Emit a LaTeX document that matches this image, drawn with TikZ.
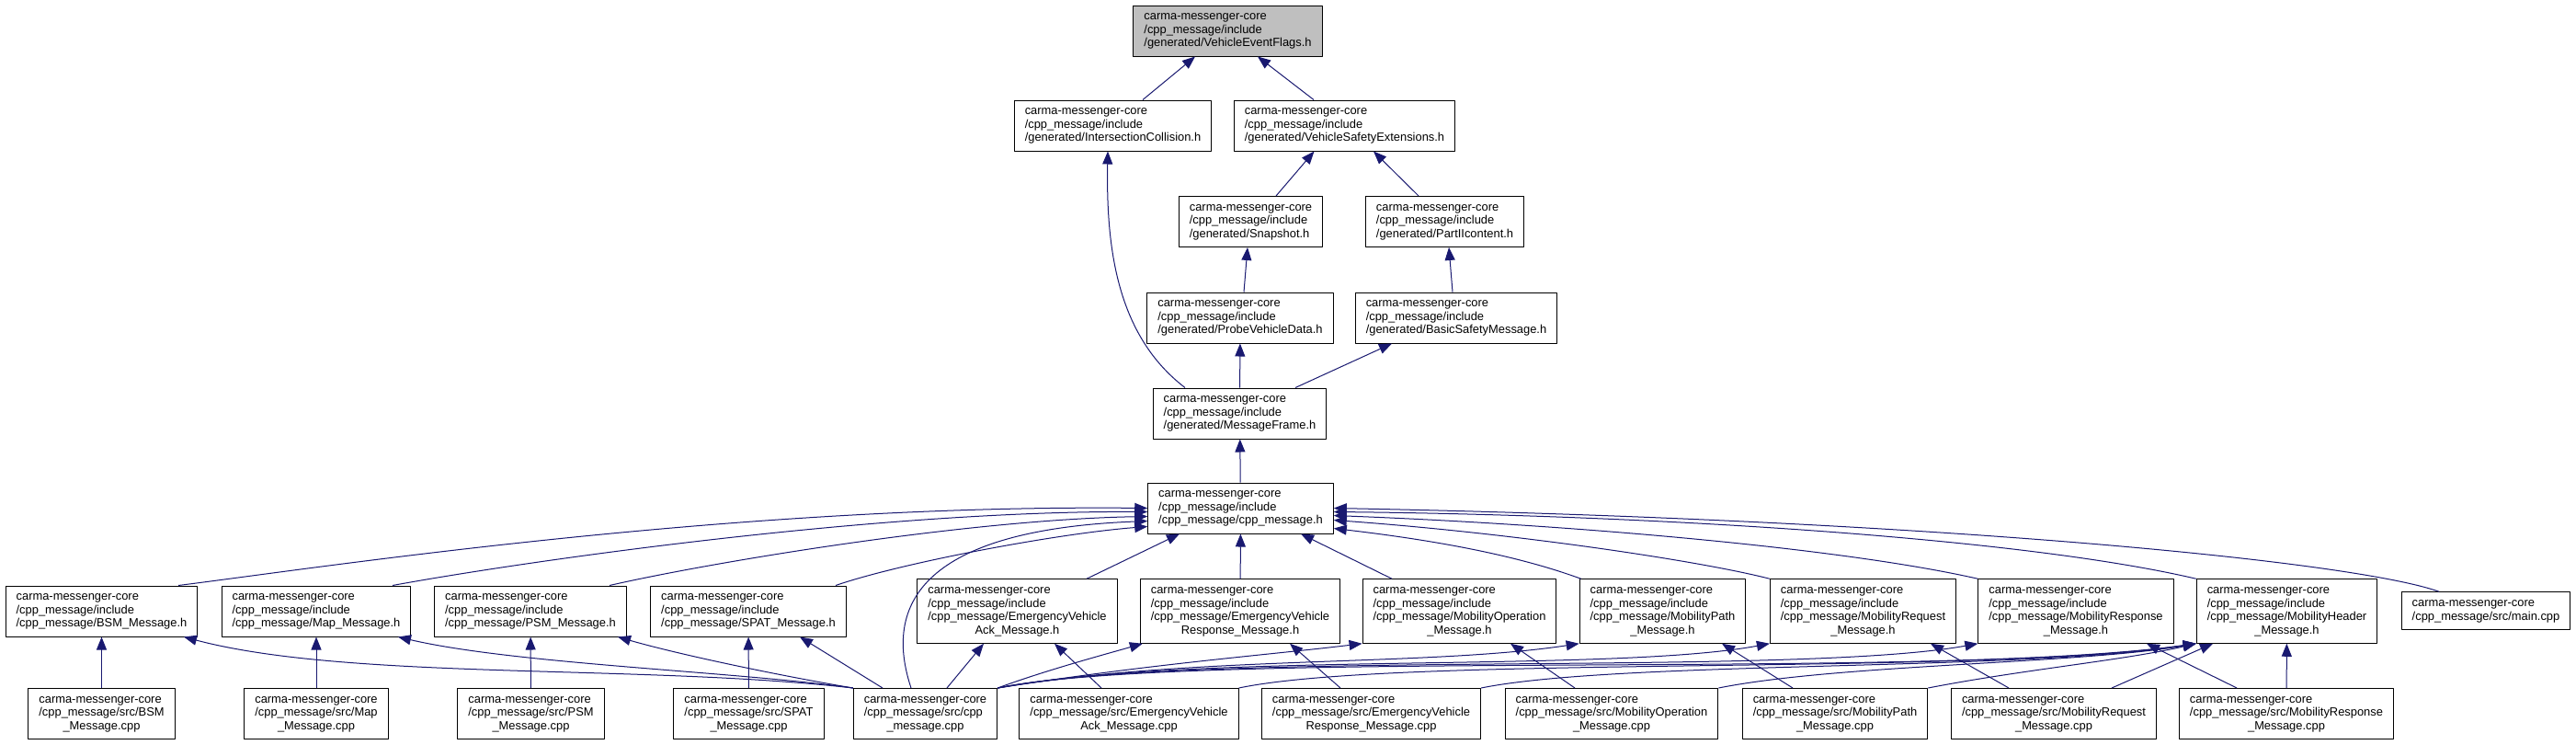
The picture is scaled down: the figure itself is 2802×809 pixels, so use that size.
\documentclass[tikz,border=0pt]{standalone}
\usepackage{fontspec}
\setmainfont{Liberation Sans}
\usetikzlibrary{arrows.meta}
\definecolor{edgeblue}{RGB}{25,25,112}
\definecolor{rootgray}{RGB}{191,191,191}
\newcommand{\fname}[1]{\begin{tabular}{@{}l@{}}#1\end{tabular}}
\newcommand{\lastc}[1]{\multicolumn{1}{@{}c@{}}{#1}}
\newcommand{\cmc}{carma-messenger-core}
\begin{document}
\begin{tikzpicture}[x=1pt, y=-1pt, font=\fontsize{12.9}{14.5}\selectfont, line join=round,
  file/.style={draw=black, line width=1pt, fill=white, inner xsep=11.5pt, inner ysep=5.75pt},
  dep/.style={draw=edgeblue, line width=1pt, -{Triangle[length=14pt,width=11pt]}}]
\useasboundingbox (0,0) rectangle (2802,809);
\node[file, fill=rootgray] (vef) at (1335.5,33.5) {\fname{\cmc\\/cpp\_message/include\\/generated/VehicleEventFlags.h}};
\node[file] (ic) at (1210.5,136.5) {\fname{\cmc\\/cpp\_message/include\\/generated/IntersectionCollision.h}};
\node[file] (vse) at (1462.5,136.5) {\fname{\cmc\\/cpp\_message/include\\/generated/VehicleSafetyExtensions.h}};
\node[file] (snap) at (1360.5,241) {\fname{\cmc\\/cpp\_message/include\\/generated/Snapshot.h}};
\node[file] (p2) at (1571.5,241) {\fname{\cmc\\/cpp\_message/include\\/generated/PartIIcontent.h}};
\node[file] (pvd) at (1349,345.5) {\fname{\cmc\\/cpp\_message/include\\/generated/ProbeVehicleData.h}};
\node[file] (bsmsg) at (1584,345.5) {\fname{\cmc\\/cpp\_message/include\\/generated/BasicSafetyMessage.h}};
\node[file] (mf) at (1348.5,449.5) {\fname{\cmc\\/cpp\_message/include\\/generated/MessageFrame.h}};
\node[file] (cpph) at (1349.5,552.5) {\fname{\cmc\\/cpp\_message/include\\/cpp\_message/cpp\_message.h}};

\node[file] (bsmh) at (110.5,664.5) {\fname{\cmc\\/cpp\_message/include\\/cpp\_message/BSM\_Message.h}};
\node[file] (maph) at (344,664.5) {\fname{\cmc\\/cpp\_message/include\\/cpp\_message/Map\_Message.h}};
\node[file] (psmh) at (577,664.5) {\fname{\cmc\\/cpp\_message/include\\/cpp\_message/PSM\_Message.h}};
\node[file] (spath) at (814,664.5) {\fname{\cmc\\/cpp\_message/include\\/cpp\_message/SPAT\_Message.h}};
\node[file] (evah) at (1106.5,664.5) {\fname{\cmc\\/cpp\_message/include\\/cpp\_message/EmergencyVehicle\\\lastc{Ack\_Message.h}}};
\node[file] (evrh) at (1349,664.5) {\fname{\cmc\\/cpp\_message/include\\/cpp\_message/EmergencyVehicle\\\lastc{Response\_Message.h}}};
\node[file] (moph) at (1587.5,664.5) {\fname{\cmc\\/cpp\_message/include\\/cpp\_message/MobilityOperation\\\lastc{\_Message.h}}};
\node[file] (mpah) at (1808.5,664.5) {\fname{\cmc\\/cpp\_message/include\\/cpp\_message/MobilityPath\\\lastc{\_Message.h}}};
\node[file] (mrqh) at (2026.5,664.5) {\fname{\cmc\\/cpp\_message/include\\/cpp\_message/MobilityRequest\\\lastc{\_Message.h}}};
\node[file] (mrsh) at (2258,664.5) {\fname{\cmc\\/cpp\_message/include\\/cpp\_message/MobilityResponse\\\lastc{\_Message.h}}};
\node[file] (mhh) at (2487.5,664.5) {\fname{\cmc\\/cpp\_message/include\\/cpp\_message/MobilityHeader\\\lastc{\_Message.h}}};
\node[file] (mainc) at (2704,664) {\fname{\cmc\\/cpp\_message/src/main.cpp}};

\node[file] (bsmc) at (110.5,776) {\fname{\cmc\\/cpp\_message/src/BSM\\\lastc{\_Message.cpp}}};
\node[file] (mapc) at (344,776) {\fname{\cmc\\/cpp\_message/src/Map\\\lastc{\_Message.cpp}}};
\node[file] (psmc) at (577.5,776) {\fname{\cmc\\/cpp\_message/src/PSM\\\lastc{\_Message.cpp}}};
\node[file] (spatc) at (814.5,776) {\fname{\cmc\\/cpp\_message/src/SPAT\\\lastc{\_Message.cpp}}};
\node[file] (cppc) at (1006.5,776) {\fname{\cmc\\/cpp\_message/src/cpp\\\lastc{\_message.cpp}}};
\node[file] (evac) at (1228,776) {\fname{\cmc\\/cpp\_message/src/EmergencyVehicle\\\lastc{Ack\_Message.cpp}}};
\node[file] (evrc) at (1491.5,776) {\fname{\cmc\\/cpp\_message/src/EmergencyVehicle\\\lastc{Response\_Message.cpp}}};
\node[file] (mopc) at (1753,776) {\fname{\cmc\\/cpp\_message/src/MobilityOperation\\\lastc{\_Message.cpp}}};
\node[file] (mpac) at (1996,776) {\fname{\cmc\\/cpp\_message/src/MobilityPath\\\lastc{\_Message.cpp}}};
\node[file] (mrqc) at (2234,776) {\fname{\cmc\\/cpp\_message/src/MobilityRequest\\\lastc{\_Message.cpp}}};
\node[file] (mrsc) at (2487,776) {\fname{\cmc\\/cpp\_message/src/MobilityResponse\\\lastc{\_Message.cpp}}};

\draw[dep] ([xshift=32.5pt]ic.north) -- ([xshift=-35.5pt]vef.south);
\draw[dep] ([xshift=-33.5pt]vse.north) -- ([xshift=32.5pt]vef.south);
\draw[dep] ([xshift=27.5pt]snap.north) -- ([xshift=-33pt]vse.south);
\draw[dep] ([xshift=-28.5pt]p2.north) -- ([xshift=31.5pt]vse.south);
\draw[dep] ([xshift=4pt]pvd.north) -- ([xshift=-3.5pt]snap.south);
\draw[dep] ([xshift=-4pt]bsmsg.north) -- ([xshift=4.5pt]p2.south);
\draw[dep] (mf) -- (pvd);
\draw[dep] ([xshift=60.5pt]mf.north) -- ([xshift=-70pt]bsmsg.south);
\draw[dep] ([xshift=-59.5pt]mf.north) .. controls (1215,365) and (1203,270) .. ([xshift=-5.5pt]ic.south);
\draw[dep] (cpph) -- (mf);

\draw[dep] ([xshift=75.5pt]evah.north) -- ([xshift=-66.5pt]cpph.south);
\draw[dep] (evrh) -- (cpph);
\draw[dep] ([xshift=-73.5pt]moph.north) -- ([xshift=65.5pt]cpph.south);
\draw[dep] ([xshift=83.5pt]bsmh.north) .. controls (350,617) and (800,548) .. (cpph.west);
\draw[dep] ([xshift=83pt]maph.north) .. controls (560,612) and (950,555) .. ([yshift=-4pt]cpph.west);
\draw[dep] ([xshift=86pt]psmh.north) .. controls (770,612) and (1050,565) .. ([yshift=-9pt]cpph.west);
\draw[dep] ([xshift=95pt]spath.north) .. controls (980,612) and (1150,580) .. ([yshift=-20pt]cpph.west);
\draw[dep] ([xshift=-15.5pt]cppc.north) .. controls (955,640) and (1030,575) .. ([yshift=-14pt]cpph.west);
\draw[dep] ([xshift=2pt]mpah.north west) .. controls (1640,600) and (1540,585) .. ([yshift=-22pt]cpph.east);
\draw[dep] (mrqh.north west) .. controls (1850,610) and (1650,580) .. ([yshift=-13pt]cpph.east);
\draw[dep] (mrsh.north west) .. controls (2000,595) and (1700,570) .. ([yshift=-8pt]cpph.east);
\draw[dep] (mhh.north west) .. controls (2200,585) and (1800,560) .. ([yshift=-4pt]cpph.east);
\draw[dep] ([xshift=-51pt]mainc.north) .. controls (2560,610) and (2100,565) .. (cpph.east);

\foreach \a/\b in {bsmc/bsmh, mapc/maph, psmc/psmh, spatc/spath, mrsc/mhh}
  \draw[dep] (\a) -- (\b);
\draw[dep] (cppc.north west) .. controls (700,722) and (380,740) .. ([xshift=89.5pt]bsmh.south);
\draw[dep] (cppc.north west) .. controls (800,730) and (560,722) .. ([xshift=89pt]maph.south);
\draw[dep] (cppc.north west) .. controls (850,735) and (740,712) .. ([xshift=95pt]psmh.south);
\draw[dep] ([xshift=-46.5pt]cppc.north) -- ([xshift=56pt]spath.south);
\draw[dep] ([xshift=23.5pt]cppc.north) -- ([xshift=-36.5pt]evah.south);
\draw[dep] ([xshift=-30pt]evac.north) -- ([xshift=40.5pt]evah.south);
\draw[dep] (cppc.north east) .. controls (1140,728) and (1200,712) .. ([xshift=3pt]evrh.south west);
\draw[dep] ([xshift=-33.5pt]evrc.north) -- ([xshift=54pt]evrh.south);
\draw[dep] (cppc.north east) .. controls (1250,722) and (1380,712) .. (moph.south west);
\draw[dep] ([xshift=-40pt]mopc.north) -- ([xshift=55.5pt]moph.south);
\draw[dep] (cppc.north east) .. controls (1300,712) and (1550,725) .. (mpah.south west);
\draw[dep] ([xshift=-46pt]mpac.north) -- ([xshift=64.5pt]mpah.south);
\draw[dep] (cppc.north east) .. controls (1300,708) and (1750,732) .. (mrqh.south west);
\draw[dep] ([xshift=-49pt]mrqc.north) -- ([xshift=73.5pt]mrqh.south);
\draw[dep] (cppc.north east) .. controls (1300,706) and (1950,736) .. (mrsh.south west);
\draw[dep] ([xshift=-54pt]mrsc.north) -- ([xshift=77pt]mrsh.south);
\draw[dep] (cppc.north east) .. controls (1300,705) and (2100,740) .. (mhh.south west);
\draw[dep] (evac.north east) .. controls (1520,712) and (2150,735) .. (mhh.south west);
\draw[dep] (evrc.north east) .. controls (1760,718) and (2200,730) .. (mhh.south west);
\draw[dep] (mopc.north east) .. controls (2000,722) and (2260,722) .. (mhh.south west);
\draw[dep] (mpac.north east) .. controls (2200,728) and (2310,718) .. (mhh.south west);
\draw[dep] ([xshift=63pt]mrqc.north) -- ([xshift=-80.5pt]mhh.south);
\end{tikzpicture}
\end{document}
